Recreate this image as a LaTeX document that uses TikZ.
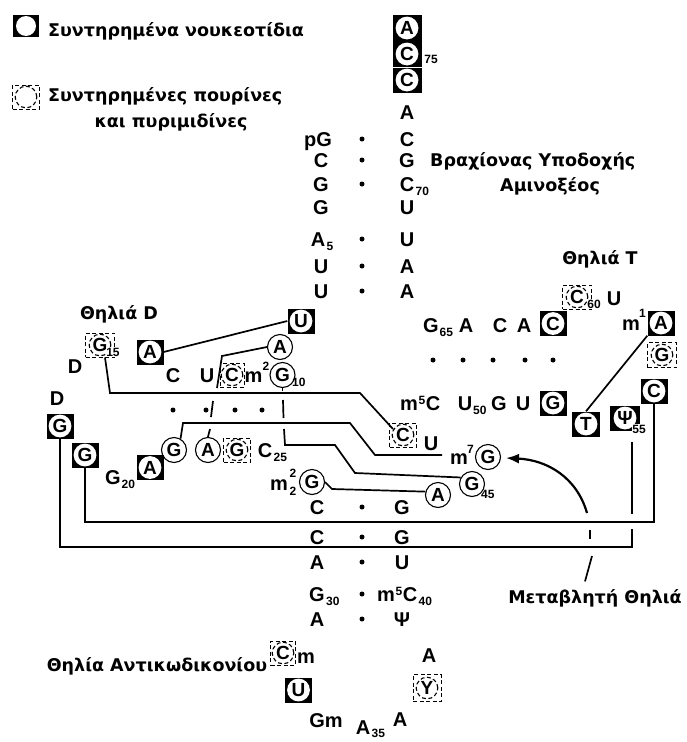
\documentclass[tikz,border=0pt]{standalone}
\usepackage{fontspec}
\setmainfont{Liberation Sans}
\newfontfamily\labfont{DejaVu Sans}
\usetikzlibrary{arrows.meta,calc}
\begin{document}
\begin{tikzpicture}[x=1pt,y=-1pt,
  tx/.style={font=\bfseries\fontsize{20}{20}\selectfont, inner sep=0pt, text height=14.3pt, text depth=0pt},
  sb/.style={font=\bfseries\fontsize{12}{12}\selectfont, inner sep=0pt, text height=8.6pt, text depth=0pt},
  sbw/.style={sb, fill=white, inner sep=0.8pt},
  sub/.style={sb, anchor=base west},
  cb/.style={rectangle, fill=black, minimum width=27pt, minimum height=25pt, inner sep=0pt,
    font=\bfseries\fontsize{19}{19}\selectfont, text height=13.6pt, text depth=0pt,
    path picture={\fill[white] (path picture bounding box.center) circle (#1);}},
  cb/.default=11.4pt,
  db/.style={rectangle, draw, dash pattern=on 4pt off 2.5pt, line width=1pt, minimum width=28pt, minimum height=24pt, inner sep=0pt,
    font=\bfseries\fontsize{19}{19}\selectfont, text height=13.6pt, text depth=0pt,
    path picture={\draw[line width=1.1pt] (path picture bounding box.center) circle (10.8pt);}},
  cc/.style={circle, draw, line width=1.1pt, minimum size=25pt, inner sep=0pt,
    font=\bfseries\fontsize{19}{19}\selectfont, text height=13.6pt, text depth=0pt},
  dt/.style={circle, fill=black, inner sep=0pt, minimum size=5pt},
  lab/.style={font=\labfont\bfseries\fontsize{17.5}{17.5}\selectfont, inner sep=0pt, text height=12.8pt, text depth=0pt},
  ln/.style={line width=1.7pt}
]
\fill[white] (0,0) rectangle (686,742);
\useasboundingbox (0,0) rectangle (686,742);

% ---------- legend ----------
\node[cb=10pt, minimum width=26pt, minimum height=22pt] (leg1) at (26,26) {};
\node[lab, anchor=west] (leg1t) at (48,30) {Συντηρημένα νουκεοτίδια};
\node[db, minimum width=27pt, minimum height=24pt] (leg2) at (26,97) {};
\node[lab, anchor=west] (leg2t) at (48,95) {Συντηρημένες πουρίνες};
\node[lab] (leg2u) at (171,121.5) {και πυριμιδίνες};

% ---------- acceptor stem ----------
\node[cb, minimum width=29pt, minimum height=26pt] (A76) at (407,28) {A};
\node[cb, minimum width=29pt, minimum height=26pt] (C75) at (407,54) {C};
\node[cb, minimum width=29pt, minimum height=26pt] (C74) at (407,80) {C};
\draw[white, line width=1pt] (C75.south west) -- (C75.south east);
\node[sb] (s75) at (431,59) {75};
\node[tx] (A73) at (407,112) {A};

\node[tx] (l1) at (318,139) {pG}; \node[dt] (d1) at (362,139) {}; \node[tx] (r1) at (407,139) {C};
\node[tx] (l2) at (321,160) {C};  \node[dt] (d2) at (362,160) {}; \node[tx] (r2) at (407,160) {G};
\node[tx] (l3) at (321,184) {G};  \node[dt] (d3) at (362,184) {}; \node[tx] (r3) at (407,184) {C};
\node[sub] (s70) at ($(r3.base east)+(1,4)$) {70};
\node[tx] (l4) at (321,207) {G};  \node[tx] (r4) at (407,207) {U};
\node[tx] (l5) at (318,239) {A};  \node[sub] (s5) at ($(l5.base east)+(1,4)$) {5};
\node[dt] (d5) at (362,239) {}; \node[tx] (r5) at (407,239) {U};
\node[tx] (l6) at (321,266) {U};  \node[dt] (d6) at (362,266) {}; \node[tx] (r6) at (407,266) {A};
\node[tx] (l7) at (321,291) {U};  \node[dt] (d7) at (362,291) {}; \node[tx] (r7) at (407,291) {A};

\node[lab, anchor=west] (acc1) at (430,160) {Βραχίονας Υποδοχής};
\node[lab, anchor=west] (acc2) at (500,185) {Αμινοξέος};

% ---------- T arm ----------
\node[lab] (tlab) at (600,258) {Θηλιά T};
\node[db, minimum width=29pt] (C60) at (577,297) {C};
\node[sbw] (s60) at (594,304) {60};
\node[tx] (U59) at (614,298) {U};
\node[tx] (G65) at (431,325) {G}; \node[sub] (s65) at ($(G65.base east)+(0.5,4)$) {65};
\node[tx] (A64) at (466,325) {A};
\node[tx] (C63) at (500,325) {C};
\node[tx] (A62) at (524,325) {A};
\node[cb] (C61) at (553,323.5) {C};
\node[tx] (m58) at (631,323) {m}; \node[sb] (sp1) at (642.5,313) {1};
\node[cb] (A58) at (661,323) {A};
\node[db, minimum width=29pt, minimum height=25pt] (G57) at (662,355) {G};
\foreach \xx [count=\i] in {433,463,493,525,553} \node[dt] (td\i) at (\xx,360) {};
\node[tx] (m49) at (409,403) {m}; \node[sub] (sp5) at ($(m49.base east)+(0.3,-6)$) {5};
\node[tx, anchor=west] (C49) at ($(m49.east)+(7.5,0)$) {C};
\node[tx] (U50) at (465,403) {U}; \node[sub] (s50) at ($(U50.base east)+(0.5,4)$) {50};
\node[tx] (G51) at (499,403) {G};
\node[tx] (U52) at (523,403) {U};
\node[cb] (G53) at (553,403) {G};
\node[cb, minimum width=28pt] (T54) at (586,424) {T};
\node[cb, minimum width=30pt] (P55) at (625,418) {Ψ};
\node[sbw] (s55) at (639,429) {55};
\node[cb] (C56) at (654,391) {C};

% ---------- D arm ----------
\node[lab] (dlab) at (119,313) {Θηλιά D};
\node[db, minimum width=29pt] (G15) at (100,345) {G};
\node[sbw] (s15) at (113,352) {15};
\node[tx] (D16) at (75,366) {D};
\node[cb] (A14) at (150,352) {A};
\node[cb] (U8) at (301,321) {U};
\node[cc] (A9) at (280,347) {A};
\node[tx] (C13) at (173,375) {C};
\node[tx] (U12) at (207,375) {U};
\node[db, minimum width=24pt] (C11) at (232,375) {C};
\node[tx] (m10) at (253.5,375) {m}; \node[sb] (sp2) at (266,366) {2};
\node[cc] (G10) at (282.5,375) {G}; \node[sub] (s10) at (292,386) {10};
\foreach \xx [count=\i] in {173,206,235,262} \node[dt] (dd\i) at (\xx,410) {};
\node[cc] (G22) at (174,450) {G};
\node[cc] (A23) at (208,450) {A};
\node[db, minimum width=27pt] (G24) at (237,450) {G};
\node[tx] (C25) at (265,450) {C}; \node[sub] (s25) at ($(C25.base east)+(1,4)$) {25};
\node[tx] (D17) at (57,398) {D};
\node[cb] (G18) at (60,426) {G};
\node[cb] (G19) at (85,455) {G};
\node[tx] (G20) at (113,477) {G}; \node[sub] (s20) at ($(G20.base east)+(0.5,4)$) {20};
\node[cb] (A21) at (150,467.5) {A};
\node[tx] (m26) at (279,483) {m}; \node[sb] (sp22) at (293,473) {2}; \node[sb] (sb22) at (293,491) {2};
\node[cc] (G26) at (312,482) {G};

% ---------- variable region ----------
\node[db, minimum width=27pt] (C48) at (403,435) {C};
\node[tx] (U47) at (431,443) {U};
\node[tx] (m46) at (459,457) {m}; \node[sb] (sp7) at (470.5,449) {7};
\node[cc] (G46) at (488,457) {G};
\node[cc] (A44) at (438,495) {A};
\node[cc] (G45) at (472,484) {G}; \node[sub] (s45) at (481,498) {45};
\node[lab] (vlab) at (595,597) {Μεταβλητή Θηλιά};

% ---------- anticodon stem ----------
\node[tx] (b1l) at (317,507) {C}; \node[dt] (b1d) at (362,507) {}; \node[tx] (b1r) at (402,507) {G};
\node[tx] (b2l) at (317,537) {C}; \node[dt] (b2d) at (362,537) {}; \node[tx] (b2r) at (402,537) {G};
\node[tx] (b3l) at (317,562) {A}; \node[dt] (b3d) at (362,562) {}; \node[tx] (b3r) at (402,562) {U};
\node[tx] (b4l) at (317,594) {G}; \node[sub] (s30) at ($(b4l.base east)+(1,4)$) {30};
\node[dt] (b4d) at (362,594) {};
\node[tx] (b4m) at (386,594) {m}; \node[sub] (sp40) at ($(b4m.base east)+(0.3,-6)$) {5};
\node[tx, anchor=west] (b4r) at ($(b4m.east)+(7.5,0)$) {C}; \node[sub] (s40) at ($(b4r.base east)+(1,4)$) {40};
\node[tx] (b5l) at (317,619) {A}; \node[dt] (b5d) at (362,619) {}; \node[tx] (b5r) at (402,619) {Ψ};

% ---------- anticodon loop ----------
\node[db, minimum width=25pt] (C32) at (283,653) {C};
\node[tx] (m32) at (306,656) {m};
\node[lab] (acl) at (157,665) {Θηλία Αντικωδικονίου};
\node[cb] (U33) at (298.5,690) {U};
\node[tx] (G34) at (326,720) {Gm};
\node[tx] (A35) at (363,727) {A}; \node[sub] (s35) at ($(A35.base east)+(1,3)$) {35};
\node[tx] (A36) at (400,719) {A};
\node[db, minimum width=28pt, minimum height=27pt] (Y37) at (427,688) {Y};
\node[tx] (A38) at (429,655) {A};

% ---------- tertiary connectors ----------
\coordinate (m7end) at (442,455);
\coordinate (psitail) at (632,442);
\coordinate (arrtip) at (506,458);

\draw[ln] (U8.west) -- (A14.east);
% A9 - A23
\draw[ln] (A9.west) -- (222,356) -- (217,388);
\draw[ln] (213,401) -- (211,417);
\draw[ln] (210,429) -- (A23.north);
% G10 - C25 - G45
\draw[ln] (G10.south) -- (282.5,391);
\draw[ln] (283,400) -- (283.5,418);
\draw[ln] (284,429) -- (285,445) -- (335,445) -- (355,473) -- (G45.150);
% G15 - C48
\draw[ln] ($(G15.south)+(5,0)$) -- (110,393) -- (360,393) -- ($(C48.center)+(-10,-6)$);
% G22 - m7G46
\draw[ln] (G22.60) -- (183,423) -- (350,423) -- (375,455) -- (m7end);
% m22G26 - A44
\draw[ln] (G26.east) -- (332,489) -- (A44.165);
% T54 - m1A58
\draw[ln] (A58.south west) -- (T54.north);
% G18 - Psi55
\draw[ln] (G18.south) -- (G18.south |- 0,547) -- (632,547) -- (632,529);
\draw[ln] (632,514) -- (psitail);
% G19 - C56
\draw[ln] (G19.south) -- (G19.south |- 0,522) -- (C56.south |- 0,522) -- (C56.south);
% variable loop pointer
\draw[ln] ($(vlab.north)+(-10,-9)$) -- (592,556);
\draw[ln] (590,530) -- (590,539);
\draw[line width=2.2pt, -{Latex[length=13pt,width=10pt]}] (587,513) .. controls (577,478) and (548,460) .. (arrtip);
\end{tikzpicture}
\end{document}
